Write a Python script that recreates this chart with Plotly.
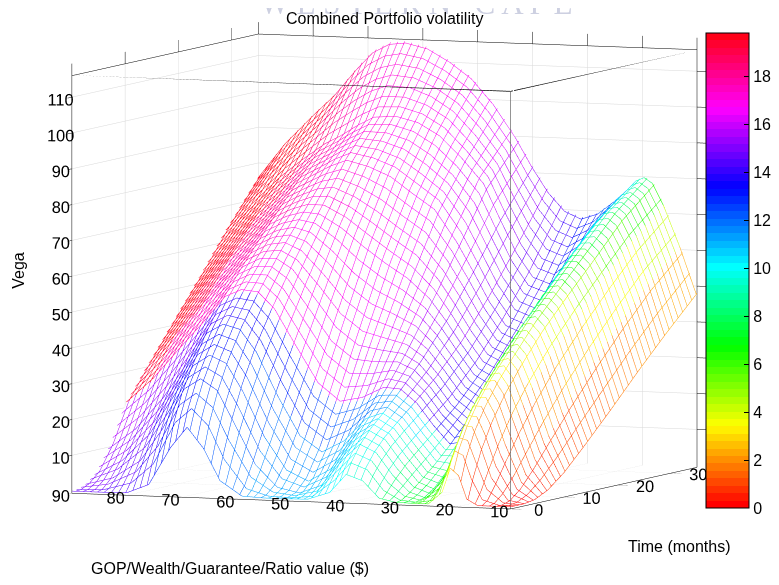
import colorsys
import numpy as np
import plotly.graph_objects as go

# Time axis (months) and GOP/Wealth/Guarantee/Ratio value axis ($)
time_months = [0, 1, 2.5, 4.5, 7, 10, 14, 19, 24, 29, 35]
gop_value = [10, 13, 16, 18, 19.5, 21, 22.5, 25, 28, 31, 34, 37, 40, 43, 47,
             51, 55, 59, 63, 66, 69, 72, 76, 80, 85, 90]

# Vega, one row per time value, one column per GOP value
vega_t0 = [0, 0, 0, 1.7, 8.2, 10.2, 3.4, 0, 0, 0.1, 1.1, 5.8, 7.4, 2.2, 0.1, 0, 0, 0.3, 4.4, 13.2, 19.0, 13.2, 2.6, 0.1, 0, 0]
vega_t1 = [0, 0, 1.6, 8.0, 14.5, 15.5, 8.9, 0.8, 0, 0.5, 3.3, 9.1, 10.9, 5.8, 0.7, 0, 0.3, 2.4, 10.9, 20.4, 24.8, 21.0, 9.0, 3.0, 0.5, 0.1]
vega_t2 = [0, 0.8, 6.7, 15.4, 20.8, 21.1, 15.1, 3.9, 0.6, 2.1, 6.6, 12.7, 14.9, 10.5, 3.0, 0.7, 2.0, 8.0, 19.7, 28.4, 31.5, 28.5, 17.0, 8.0, 3.0, 1.0]
vega_t4 = [0.5, 3.7, 13.7, 22.6, 26.9, 26.9, 21.5, 9.1, 2.8, 4.7, 10.2, 16.3, 18.8, 15.5, 7.6, 3.9, 7.0, 16.4, 29.2, 36.6, 38.6, 35.5, 26.0, 16.0, 8.0, 3.5]
vega_t7 = [2.4, 9.0, 21.4, 29.6, 33.0, 32.6, 27.7, 15.9, 7.1, 8.1, 13.8, 19.8, 22.6, 21.0, 14.7, 11.4, 15.8, 26.6, 38.9, 44.9, 46.1, 43.5, 34.0, 25.0, 16.0, 10.0]
vega_t10 = [6.2, 15.9, 29.1, 36.4, 39.1, 38.4, 35.0, 23.6, 13.5, 12.7, 17.8, 23.8, 27.5, 27.7, 24.4, 23.0, 27.9, 38.0, 48.5, 53.1, 53.6, 51.5, 44.0, 37.0, 28.0, 21.0]
vega_t14 = [12.7, 24.6, 37.9, 44.6, 47.0, 46.6, 43.0, 32.8, 22.3, 19.6, 23.2, 29.4, 34.6, 37.5, 38.7, 40.1, 44.8, 52.7, 60.1, 62.8, 62.4, 60.0, 54.0, 47.5, 38.5, 30.0]
vega_t19 = [21.2, 34.6, 47.4, 53.3, 55.5, 55.1, 52.4, 43.6, 33.4, 29.2, 31.6, 37.9, 44.8, 51.0, 56.7, 60.8, 65.2, 70.0, 73.4, 73.7, 72.3, 70.0, 64.0, 58.5, 50.0, 41.0]
vega_t24 = [30.0, 43.9, 56.2, 61.7, 63.9, 63.8, 61.3, 53.8, 44.5, 39.9, 41.8, 48.3, 56.8, 64.9, 73.8, 78.0, 82.5, 85.0, 86.5, 84.6, 82.0, 79.5, 74.0, 68.5, 60.5, 52.0]
vega_t29 = [38.4, 52.5, 64.5, 70.5, 72.3, 71.8, 69.5, 64.3, 56.0, 51.8, 53.4, 60.0, 69.3, 79.1, 86.0, 92.0, 95.5, 97.0, 96.5, 94.0, 91.0, 88.5, 84.0, 79.0, 71.5, 63.5]
vega_t35 = [48.0, 61.0, 72.5, 78.5, 80.0, 79.0, 76.5, 73.0, 69.5, 68.0, 70.0, 75.0, 82.0, 90.0, 99.0, 106.0, 110.5, 114.0, 115.5, 115.0, 112.5, 107.5, 100.0, 94.0, 86.0, 76.0]

# Volatility (mesh colour), same layout as the vega rows
vol_t0 = [0, 0.2, 0.5, 1.0, 2.0, 3.5, 5.0, 6.3, 7.2, 8.0, 8.8, 9.5, 10.0, 10.3, 10.6, 11.0, 11.3, 11.8, 12.2, 12.5, 13.0, 13.3, 14.0, 14.5, 14.8, 15.0]
vol_t1 = [0.1, 0.4, 0.8, 1.3, 2.3, 3.8, 5.3, 6.4, 7.3, 8.1, 8.9, 9.6, 10.1, 10.4, 10.7, 11.1, 11.4, 11.9, 12.3, 12.6, 13.1, 13.4, 14.1, 14.6, 14.9, 15.1]
vol_t2 = [0.3, 0.6, 1.2, 1.8, 2.8, 4.2, 5.6, 6.6, 7.5, 8.3, 9.1, 9.8, 10.3, 10.6, 10.9, 11.3, 11.6, 12.1, 12.5, 12.7, 13.2, 13.5, 14.2, 14.7, 15.0, 15.2]
vol_t4 = [0.5, 1.0, 1.7, 2.4, 3.4, 4.8, 6.1, 6.9, 7.8, 8.6, 9.4, 10.1, 10.6, 10.9, 11.2, 11.6, 11.9, 12.3, 12.7, 13.0, 13.5, 13.8, 14.5, 15.0, 15.3, 15.5]
vol_t7 = [0.7, 1.4, 2.3, 3.2, 4.2, 5.7, 6.9, 7.8, 8.7, 9.5, 10.3, 11.0, 11.5, 11.8, 12.1, 12.5, 12.7, 13.1, 13.5, 13.7, 14.2, 14.5, 15.0, 15.3, 15.5, 15.8]
vol_t10 = [1.0, 1.9, 3.1, 4.1, 5.2, 6.7, 7.8, 12.0, 13.0, 13.7, 14.4, 15.0, 15.6, 16.0, 16.3, 16.6, 16.7, 16.8, 16.9, 17.0, 17.2, 17.4, 17.6, 17.9, 19.3, 19.7]
vol_t14 = [1.4, 2.5, 4.0, 5.2, 6.3, 8.0, 8.9, 12.1, 13.1, 13.8, 14.5, 15.1, 15.7, 16.1, 16.4, 16.7, 16.8, 16.9, 17.0, 17.2, 17.5, 17.7, 17.8, 19.0, 19.6, 19.7]
vol_t19 = [1.7, 3.1, 4.9, 6.3, 7.4, 9.1, 9.9, 12.3, 13.3, 14.0, 14.7, 15.3, 15.9, 16.3, 16.6, 16.9, 17.0, 17.1, 17.2, 17.4, 17.7, 18.0, 18.5, 19.3, 19.7, 19.75]
vol_t24 = [2.0, 3.6, 5.7, 7.2, 8.4, 9.8, 10.5, 12.3, 13.3, 14.0, 14.7, 15.3, 15.9, 16.3, 16.6, 16.9, 17.0, 17.1, 17.2, 17.4, 17.8, 18.2, 18.9, 19.6, 19.7, 19.75]
vol_t29 = [2.3, 4.1, 6.4, 8.0, 9.2, 10.3, 11.0, 12.3, 13.3, 14.0, 14.7, 15.3, 15.9, 16.3, 16.6, 16.9, 17.0, 17.1, 17.2, 17.4, 17.9, 18.4, 19.3, 19.7, 19.75, 19.75]
vol_t35 = [2.5, 4.5, 7.0, 8.8, 10.0, 10.7, 11.3, 12.3, 13.3, 14.0, 14.7, 15.3, 15.9, 16.3, 16.6, 16.9, 17.0, 17.1, 17.2, 17.5, 18.0, 18.6, 19.5, 19.7, 19.75, 19.75]

vega = np.array([vega_t0, vega_t1, vega_t2, vega_t4, vega_t7, vega_t10, vega_t14,
                 vega_t19, vega_t24, vega_t29, vega_t35]).T
vol = np.array([vol_t0, vol_t1, vol_t2, vol_t4, vol_t7, vol_t10, vol_t14,
                vol_t19, vol_t24, vol_t29, vol_t35]).T

t_range = [0, 35]
gop_range = [10, 90]
vega_range = [-0.6, 116]
cmax = 19.8

# matlab style hsv(64) colormap
hsv_cols = []
for i in range(64):
    r, g, b = colorsys.hsv_to_rgb(i / 64.0, 1, 1)
    hsv_cols.append('rgb(%d,%d,%d)' % (round(r * 255), round(g * 255), round(b * 255)))
hsv64 = []
for i, col in enumerate(hsv_cols):
    hsv64.append([i / 64.0, col])
    hsv64.append([(i + 1) / 64.0, col])


def cmap(v):
    k = int(v / cmax * 64)
    return hsv_cols[min(max(k, 0), 63)]


font = 'Liberation Sans, Arial, sans-serif'
fs = 16
traces = []

# white faces so hidden lines are removed, like mesh()
traces.append(go.Surface(
    x=time_months, y=gop_value, z=vega - 0.5,
    colorscale=[[0, 'white'], [1, 'white']], showscale=False,
    lighting=dict(ambient=1, diffuse=0, specular=0, roughness=1, fresnel=0),
    hoverinfo='skip'))

# wire mesh: one small patch per grid cell, lines take the colour of the
# cell's first vertex (flat edge colour as in matlab)
for j in range(len(gop_value) - 1):
    for i in range(len(time_months) - 1):
        col = cmap(vol[j, i])
        traces.append(go.Surface(
            x=time_months[i:i + 2], y=gop_value[j:j + 2], z=vega[j:j + 2, i:i + 2],
            hidesurface=True, showscale=False, hoverinfo='skip',
            contours=dict(
                x=dict(show=True, start=0, end=35, size=0.85, color=col, width=1),
                y=dict(show=True, start=10, end=90, size=1.3, color=col, width=1),
                z=dict(show=False))))

# box edges plotly does not draw (front top edges and front vertical edge)
t0, t1 = t_range
g0, g1 = gop_range
z0, z1 = vega_range
traces.append(go.Scatter3d(
    x=[t0, t0, None, t0, t1], y=[g1, g0, None, g0, g0], z=[z1, z1, None, z1, z1],
    mode='lines', line=dict(color='black', width=1.5), hoverinfo='skip'))
traces.append(go.Scatter3d(
    x=[t0, t0], y=[g0, g0], z=[z0, z1],
    mode='lines', line=dict(color='#707070', width=1.5), hoverinfo='skip'))

# colorbar carrier
traces.append(go.Scatter3d(
    x=[None], y=[None], z=[None], mode='markers', hoverinfo='skip',
    marker=dict(color=[0], colorscale=hsv64, cmin=0, cmax=cmax, showscale=True,
                colorbar=dict(x=704 / 779.0, xanchor='left', y=1 - 262.5 / 585.0,
                              yanchor='middle', len=475, lenmode='pixels', ypad=0,
                              thickness=43, thicknessmode='pixels',
                              outlinecolor='black', outlinewidth=1, ticks='inside',
                              ticklen=5, tickcolor='black', tickvals=list(range(0, 20, 2)),
                              tickfont=dict(family=font, size=fs, color='black')))))

fig = go.Figure(traces)


def axis(rng, ticks):
    return dict(title=dict(text=''), range=rng, tickvals=ticks, autorange=False,
                showgrid=True, gridcolor='#d8d8d8', gridwidth=1,
                showline=True, linecolor='black', linewidth=1, mirror='all',
                ticks='outside', ticklen=12, tickcolor='black', tickangle=0,
                tickfont=dict(family=font, size=14, color='black'),
                showbackground=False, zeroline=False, showspikes=False)


k = 1.55
r = 8.0
fig.update_layout(
    width=779, height=585, margin=dict(l=0, r=0, t=0, b=0),
    paper_bgcolor='white', showlegend=False,
    font=dict(family=font, size=fs, color='black'),
    scene=dict(
        domain=dict(x=[0, 0.99], y=[0.076, 1.0]),
        xaxis=axis(t_range, [0, 10, 20, 30]),
        yaxis=axis(gop_range, list(range(10, 100, 10))),
        zaxis=axis(vega_range, list(range(10, 120, 10))),
        aspectmode='manual', aspectratio=dict(x=1.197 * k, y=1.127 * k, z=1.0 * k),
        camera=dict(eye=dict(x=-0.925 * r, y=-0.370 * r, z=0.0861 * r),
                    up=dict(x=0, y=0, z=1), center=dict(x=0, y=0, z=-0.026),
                    projection=dict(type='orthographic'))),
    annotations=[
        dict(text='W E S T E R N   C A P E', x=418 / 779.0, y=1 - 15 / 585.0,
             xref='paper', yref='paper', xanchor='center', yanchor='bottom',
             showarrow=False, font=dict(family='Liberation Serif', size=31, color='#cdd0e1')),
        dict(text='Combined Portfolio volatility', x=385.5 / 779.0, y=1 - 10 / 585.0,
             xref='paper', yref='paper', xanchor='center', yanchor='middle',
             showarrow=False, font=dict(size=fs)),
        dict(text='Vega', x=10 / 779.0, y=1 - 262 / 585.0, xref='paper', yref='paper',
             xanchor='center', yanchor='middle', textangle=-90, showarrow=False,
             font=dict(size=fs)),
        dict(text='GOP/Wealth/Guarantee/Ratio value ($)', x=227 / 779.0, y=1 - 560 / 585.0,
             xref='paper', yref='paper', xanchor='center', yanchor='middle',
             showarrow=False, font=dict(size=fs)),
        dict(text='Time (months)', x=687.5 / 779.0, y=1 - 538 / 585.0,
             xref='paper', yref='paper', xanchor='center', yanchor='middle',
             showarrow=False, font=dict(size=fs)),
    ])

fig.write_html('out.html')
